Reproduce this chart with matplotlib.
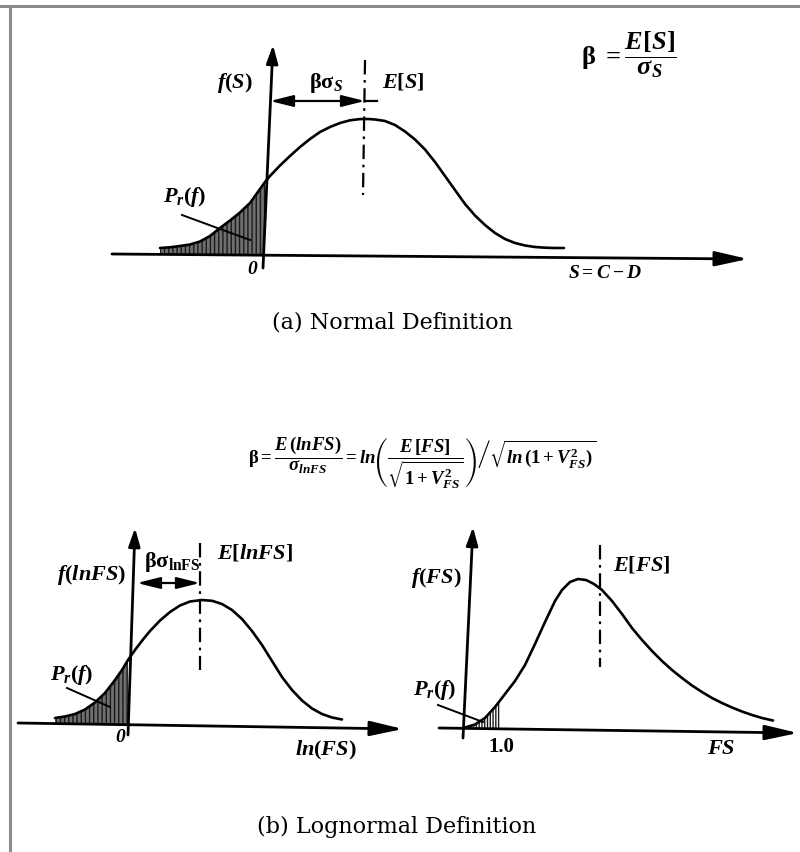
import numpy as np
import matplotlib
matplotlib.use('Agg')
import matplotlib.pyplot as plt
from matplotlib.lines import Line2D

plt.rcParams['mathtext.fontset'] = 'custom'
plt.rcParams['mathtext.rm'] = 'Liberation Serif:bold'
plt.rcParams['mathtext.it'] = 'Liberation Serif:italic:bold'
plt.rcParams['mathtext.bf'] = 'Liberation Serif:bold'
plt.rcParams['mathtext.fallback'] = 'stix'
plt.rcParams['font.family'] = ['Liberation Serif', 'DejaVu Serif']
plt.rcParams['hatch.linewidth'] = 1.0

W, H = 800, 852

# ---------------- data ----------------
# (a) Normal definition: safety margin S = C - D and its density f(S)
s_a = [-1.05, -0.95, -0.85, -0.75, -0.65, -0.55, -0.45, -0.35, -0.25, -0.15,
       -0.05, 0.00, 0.05, 0.15, 0.25, 0.35, 0.45, 0.55, 0.65, 0.75, 0.85,
       0.95, 1.03, 1.10, 1.20, 1.30, 1.40, 1.50, 1.60, 1.70, 1.80, 1.90,
       2.00, 2.10, 2.20, 2.30, 2.40, 2.50, 2.60, 2.70, 2.80, 2.90, 2.99]
f_a = [0.060, 0.067, 0.080, 0.095, 0.125, 0.180, 0.260, 0.335, 0.415, 0.510,
       0.650, 0.720, 0.780, 0.885, 0.980, 1.070, 1.150, 1.220, 1.270, 1.310,
       1.337, 1.349, 1.350, 1.345, 1.330, 1.290, 1.225, 1.145, 1.045, 0.920,
       0.780, 0.640, 0.500, 0.385, 0.290, 0.210, 0.150, 0.110, 0.085, 0.070,
       0.063, 0.060, 0.060]
mean_a = 1.00          # E[S]
limit_a = 0.0          # failure limit S = 0

# (b) left: ln(FS) and its density
lnfs_b = [-0.73, -0.63, -0.53, -0.43, -0.33, -0.23, -0.13, -0.06, 0.00, 0.07,
          0.15, 0.22, 0.32, 0.42, 0.52, 0.62, 0.74, 0.84, 0.94, 1.04, 1.14,
          1.24, 1.34, 1.44, 1.54, 1.64, 1.74, 1.84, 1.94, 2.04, 2.14]
f_lnfs_b = [0.060, 0.075, 0.100, 0.145, 0.215, 0.310, 0.440, 0.540, 0.640,
            0.740, 0.845, 0.930, 1.035, 1.120, 1.185, 1.225, 1.240, 1.232,
            1.200, 1.140, 1.050, 0.930, 0.790, 0.630, 0.470, 0.340, 0.235,
            0.155, 0.100, 0.065, 0.045]
mean_lnfs = 0.72       # E[lnFS]
limit_lnfs = 0.0

# (b) right: FS and its density
fs_b = [0.65, 0.75, 0.85, 0.95, 1.00, 1.05, 1.15, 1.25, 1.35, 1.45, 1.55,
        1.62, 1.70, 1.78, 1.86, 1.94, 2.02, 2.12, 2.22, 2.32, 2.42, 2.52,
        2.62, 2.72, 2.82, 2.92, 3.02, 3.12, 3.22, 3.32, 3.42, 3.52, 3.62, 3.73]
f_fs_b = [0.005, 0.035, 0.100, 0.210, 0.275, 0.340, 0.470, 0.630, 0.840,
          1.060, 1.270, 1.380, 1.460, 1.490, 1.480, 1.440, 1.380, 1.270,
          1.140, 1.000, 0.880, 0.770, 0.670, 0.580, 0.500, 0.425, 0.360,
          0.300, 0.250, 0.205, 0.165, 0.130, 0.100, 0.075]
mean_fs = 2.00         # E[FS]
limit_fs = 1.0         # FS = 1.0

fig = plt.figure(figsize=(W / 100, H / 100), dpi=100)
fig.patch.set_facecolor('white')


def panel(px_l, px_t, px_r, px_b, x0, y0, unit):
    ax = fig.add_axes([px_l / W, 1 - px_b / H, (px_r - px_l) / W, (px_b - px_t) / H])
    ax.set_xlim((px_l - x0) / unit, (px_r - x0) / unit)
    ax.set_ylim((y0 - px_b) / unit, (y0 - px_t) / unit)
    ax.axis('off')
    ax.patch.set_visible(False)
    return ax


def arrow(ax, start, tip, hl, hw, lw=2.0, style='-|>'):
    ax.annotate('', xy=tip, xytext=start,
                arrowprops=dict(arrowstyle=f'{style},head_length={hl},head_width={hw}',
                                lw=lw, color='black', mutation_scale=10,
                                shrinkA=0, shrinkB=0), annotation_clip=False)


LBL = 16
DASHDOT = (0, (6.5, 2.5, 1.2, 2.5))


def draw_density(ax, xs, ys, limit, hatch, face):
    xs = np.asarray(xs)
    ys = np.asarray(ys)
    ax.fill_between(xs, 0, ys, where=xs <= limit + 1e-9, facecolor=face,
                    hatch=hatch, edgecolor='#1a1a1a', linewidth=0)
    ax.plot(xs, ys, color='black', lw=1.9, solid_capstyle='round',
            solid_joinstyle='round')


# ---------------- panel (a) ----------------
axa = panel(60, 20, 790, 300, 265, 254, 100)
draw_density(axa, s_a, f_a, limit_a, '||||', '#6f6f6f')
arrow(axa, (-1.53, 0.00), (4.83, -0.05), 2.0, 0.45)
arrow(axa, (-0.02, -0.14), (0.08, 2.09), 1.1, 0.35)
axa.plot([mean_a, mean_a - 0.02], [1.94, 0.59], color='black', lw=1.6,
         linestyle=DASHDOT)
arrow(axa, (0.05, 1.53), (mean_a, 1.53), 1.4, 0.35, lw=1.6, style='<|-|>')
axa.plot([mean_a, 1.12], [1.53, 1.53], color='black', lw=1.6)
axa.text(-0.12, 1.71, r'$f(S)$', fontsize=LBL, ha='right', va='center')
axa.text(0.61, 1.71, r'$\mathrm{\beta\sigma}_S$', fontsize=LBL, ha='center', va='center')
axa.text(1.17, 1.72, r'$E[S]$', fontsize=LBL, ha='left', va='center')
axa.text(3.64, 1.99, r'$\mathrm{\beta}\ = \dfrac{E[S]}{\sigma_S}$', fontsize=19,
         ha='center', va='center')
axa.text(-0.80, 0.57, r'$P_r(f)$', fontsize=LBL, ha='center', va='center')
axa.plot([-0.83, -0.15], [0.39, 0.14], color='black', lw=1.4)
axa.text(-0.13, -0.16, '0', fontsize=14, style='italic', fontweight='bold',
         ha='center', va='center')
axa.text(3.40, -0.19, r'$S = C - D$', fontsize=14, ha='center', va='center')

# ---------------- panel (b) left ----------------
axl = panel(0, 500, 420, 780, 128, 724, 100)
draw_density(axl, lnfs_b, f_lnfs_b, limit_lnfs, '||||', '#6f6f6f')
arrow(axl, (-1.10, 0.01), (2.75, -0.05), 2.0, 0.45)
arrow(axl, (0.00, -0.11), (0.07, 1.96), 1.1, 0.35)
axl.plot([mean_lnfs, mean_lnfs], [1.81, 0.54], color='black', lw=1.6,
         linestyle=DASHDOT)
arrow(axl, (0.09, 1.41), (mean_lnfs, 1.41), 1.4, 0.35, lw=1.6, style='<|-|>')
axl.text(-0.02, 1.49, r'$f(lnFS)$', fontsize=LBL, ha='right', va='center')
axl.text(0.44, 1.62, r'$\mathrm{\beta\sigma}_{\mathrm{lnFS}}$', fontsize=LBL,
         ha='center', va='center')
axl.text(0.89, 1.71, r'$E[lnFS]$', fontsize=LBL, ha='left', va='center')
axl.text(-0.56, 0.49, r'$P_r(f)$', fontsize=LBL, ha='center', va='center')
axl.plot([-0.61, -0.18], [0.36, 0.17], color='black', lw=1.4)
axl.text(-0.08, -0.14, '0', fontsize=14, style='italic', fontweight='bold',
         ha='center', va='center')
axl.text(1.98, -0.26, r'$ln(FS)$', fontsize=LBL, ha='center', va='center')

# ---------------- panel (b) right ----------------
axr = panel(400, 500, 800, 780, 400, 728, 100)
draw_density(axr, fs_b, f_fs_b, limit_fs, '||||||', 'white')
arrow(axr, (0.39, 0.00), (3.98, -0.05), 2.0, 0.45)
arrow(axr, (0.63, -0.10), (0.73, 2.01), 1.1, 0.35)
axr.plot([mean_fs, mean_fs], [1.83, 0.61], color='black', lw=1.6,
         linestyle=DASHDOT)
axr.text(0.62, 1.50, r'$f(FS)$', fontsize=LBL, ha='right', va='center')
axr.text(2.13, 1.63, r'$E[FS]$', fontsize=LBL, ha='left', va='center')
axr.text(0.35, 0.38, r'$P_r(f)$', fontsize=LBL, ha='center', va='center')
axr.plot([0.38, 0.83], [0.23, 0.06], color='black', lw=1.4)
axr.text(1.01, -0.19, '1.0', fontsize=15, fontweight='bold', ha='center', va='center')
axr.text(3.21, -0.22, r'$FS$', fontsize=LBL, ha='center', va='center')

# ---------------- formula & captions ----------------
fig.text(422 / W, 1 - 463 / H,
         r'$\mathrm{\beta} = \dfrac{E\,(lnFS)}{\sigma_{lnFS}} = ln\left(\dfrac{E\,[FS]}{\sqrt{1+V_{FS}^{2}}}\right)\left/\sqrt{ln\,(1+V_{FS}^{2})}\right.$',
         fontsize=13.5, ha='center', va='center')
fig.text(392 / W, 1 - 322 / H, '(a) Normal Definition', fontsize=16,
         family='DejaVu Serif', ha='center', va='center')
fig.text(397 / W, 1 - 827 / H, '(b) Lognormal Definition', fontsize=16,
         family='DejaVu Serif', ha='center', va='center')

# scan frame
fig.add_artist(Line2D([0, 1], [1 - 5.5 / H, 1 - 5.5 / H], transform=fig.transFigure,
                      color='#8c8c8c', lw=2.2))
fig.add_artist(Line2D([9.5 / W, 9.5 / W], [0, 1 - 5.5 / H], transform=fig.transFigure,
                      color='#8c8c8c', lw=2.2))

fig.savefig('out.png', dpi=100, facecolor='white')
